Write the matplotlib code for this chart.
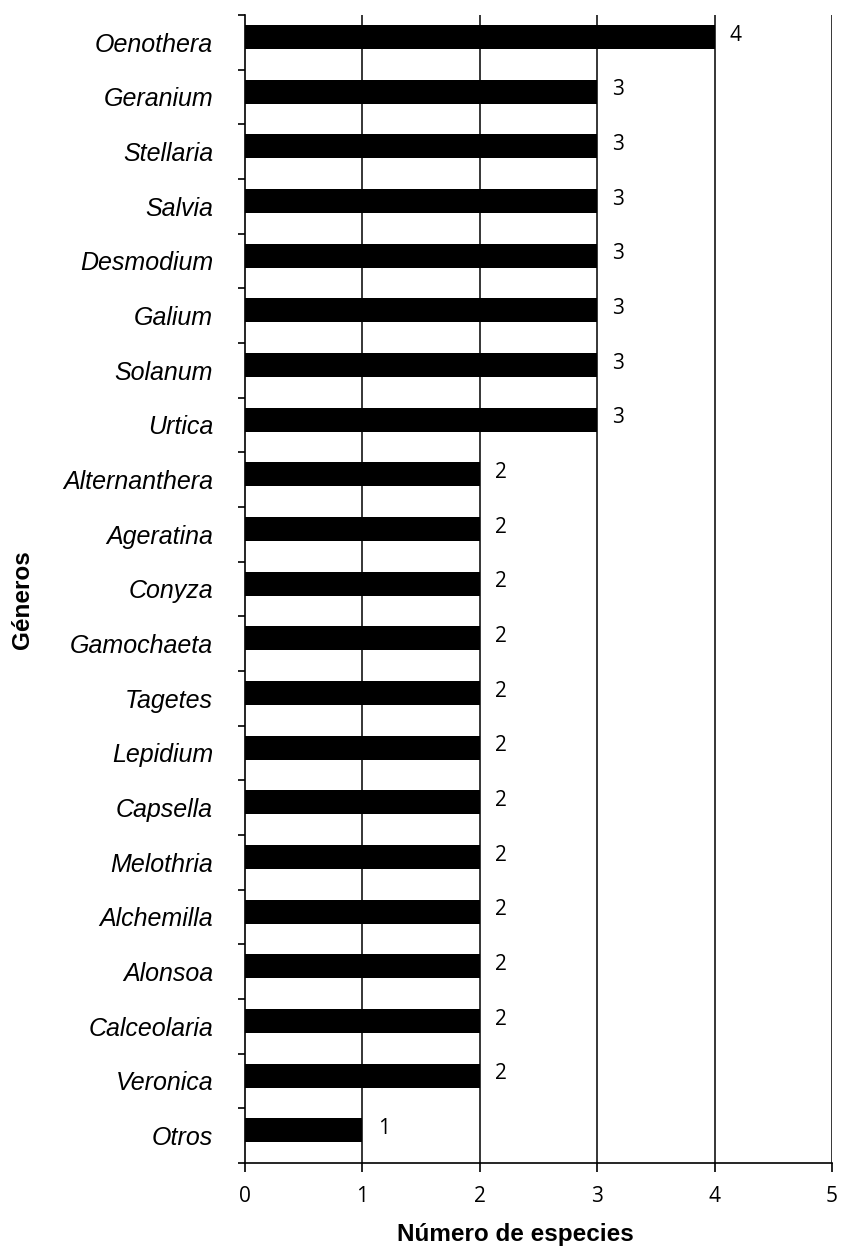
import numpy as np
import matplotlib.pyplot as plt

generos = ["Oenothera", "Geranium", "Stellaria", "Salvia", "Desmodium", "Galium",
           "Solanum", "Urtica", "Alternanthera", "Ageratina", "Conyza", "Gamochaeta",
           "Tagetes", "Lepidium", "Capsella", "Melothria", "Alchemilla", "Alonsoa",
           "Calceolaria", "Veronica", "Otros"]
especies = [4, 3, 3, 3, 3, 3, 3, 3, 2, 2, 2, 2, 2, 2, 2, 2, 2, 2, 2, 2, 1]
x_ticks = [0, 1, 2, 3, 4, 5]

fig = plt.figure(figsize=(8.43, 12.53), dpi=100)
ax = fig.add_axes([245 / 843, 1 - 1163 / 1253, (832 - 245) / 843, (1163 - 15) / 1253])

pos = np.arange(len(generos))
ax.barh(pos - 0.1, especies, height=0.44, color="black", zorder=3)

# etiquetas de valor a la derecha de cada barra
for p, v in zip(pos, especies):
    ax.text(v + 0.13, p - 0.13, str(v), va="center", ha="left",
            fontsize=15, family="Open Sans", color="black")

ax.set_xlim(0, 5)
ax.set_ylim(len(generos) - 0.5, -0.5)

ax.set_xticks(x_ticks)
ax.set_xticklabels([str(t) for t in x_ticks], family="Open Sans", fontsize=15)
ax.tick_params(axis="x", direction="out", length=6.5, width=1.2, pad=10)

ax.set_yticks(pos)
ax.set_yticklabels(generos, family="Liberation Sans", style="italic", fontsize=18)
ax.tick_params(axis="y", which="major", length=0, pad=23)
ax.set_yticks(np.arange(len(generos) + 1) - 0.5, minor=True)
ax.tick_params(axis="y", which="minor", direction="out", length=5, width=1.2)

for t in x_ticks[1:]:
    ax.axvline(t, color="black", lw=1.1, zorder=2)

for s in ["top", "right"]:
    ax.spines[s].set_visible(False)
ax.spines["left"].set_linewidth(1.2)
ax.spines["bottom"].set_linewidth(1.2)

fig.text(515 / 843, 1 - 1235 / 1253, "Número de especies", ha="center", va="center",
         fontsize=17.5, fontweight="bold", family="Liberation Sans")
fig.text(23 / 843, 1 - 600 / 1253, "Géneros", ha="center", va="center", rotation=90,
         fontsize=17.5, fontweight="bold", family="Liberation Sans")

fig.savefig("out.png", dpi=100)
